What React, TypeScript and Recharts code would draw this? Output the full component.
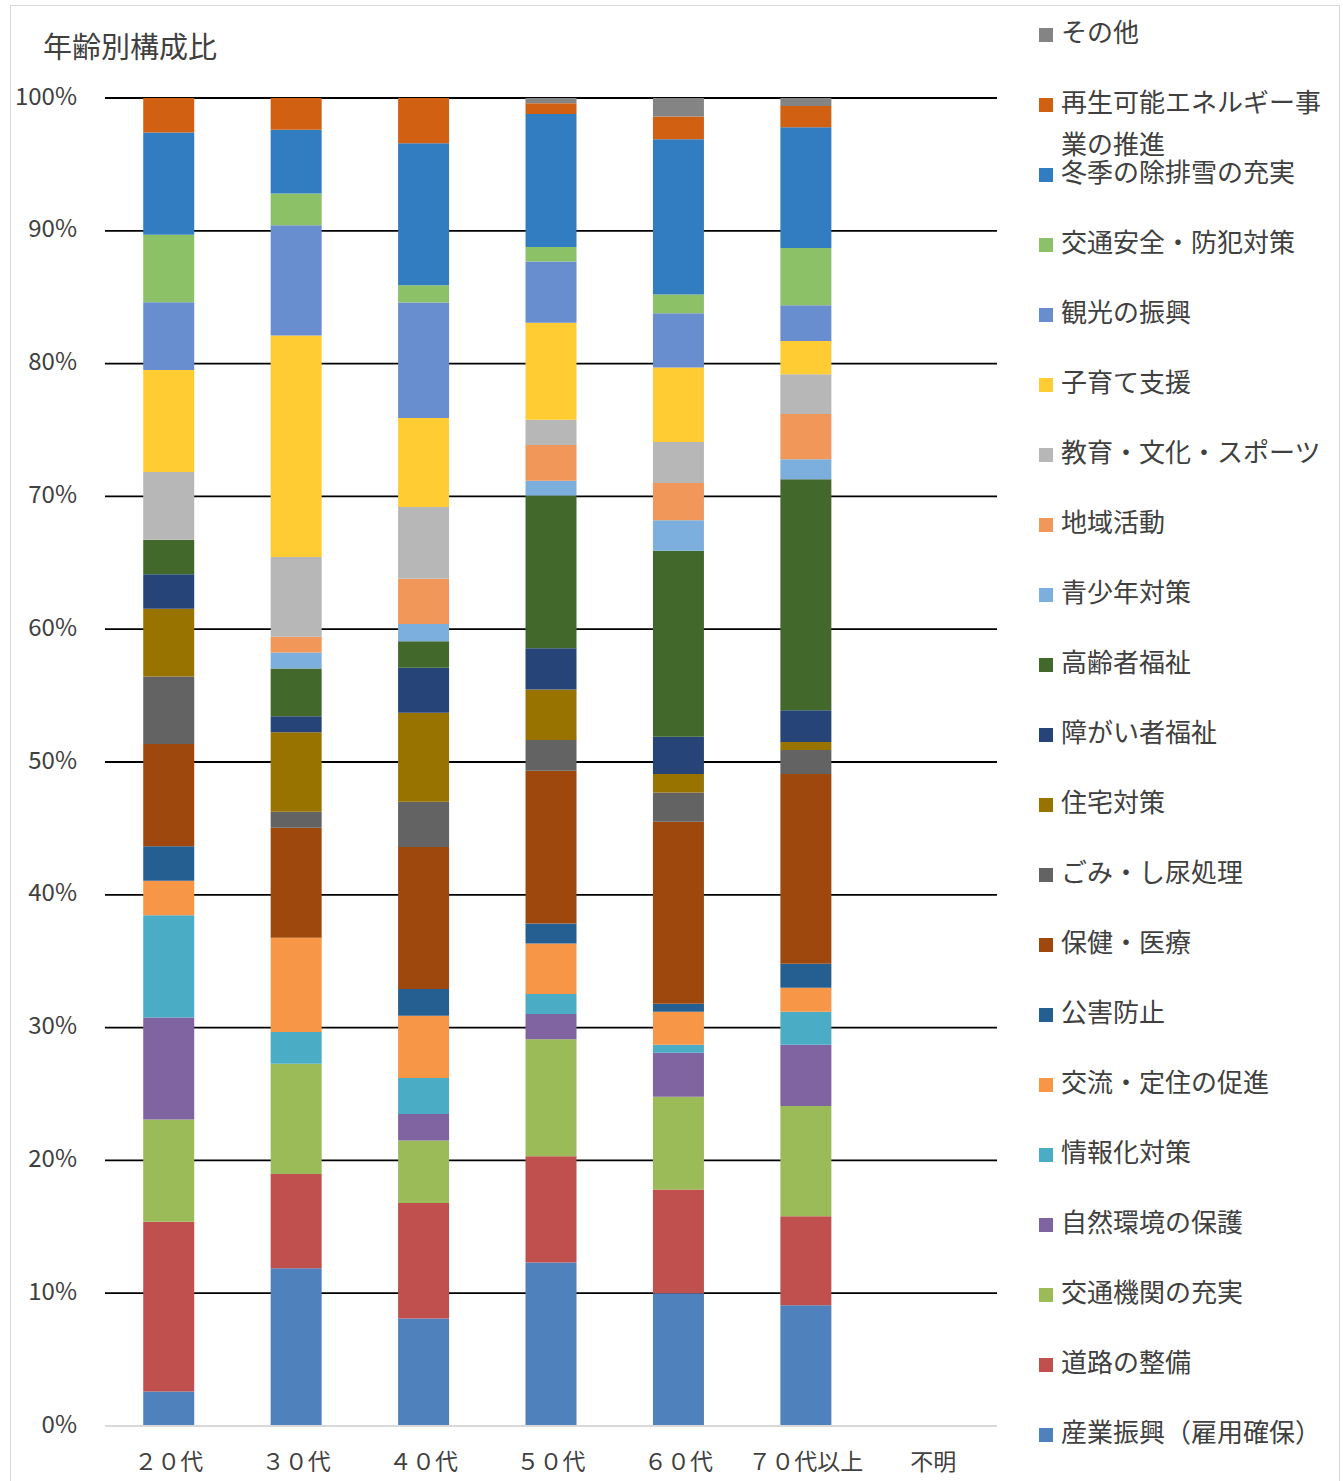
import React from 'react';
import { BarChart, Bar, XAxis, YAxis, CartesianGrid, Legend } from 'recharts';

const categories = ['２０代', '３０代', '４０代', '５０代', '６０代', '７０代以上', '不明'];

// series, bottom of stack to top (values in % of each age group)
const sangyo = [2.6, 11.9, 8.1, 12.3, 10.0, 9.1, 0];
const douro = [12.8, 7.1, 8.7, 8.0, 7.8, 6.7, 0];
const koutsuKikan = [7.7, 8.3, 4.7, 8.8, 7.0, 8.3, 0];
const shizen = [7.7, 0, 2.0, 1.9, 3.3, 4.6, 0];
const jouhou = [7.7, 2.4, 2.7, 1.5, 0.6, 2.5, 0];
const kouryu = [2.6, 7.1, 4.7, 3.8, 2.5, 1.8, 0];
const kougai = [2.6, 0, 2.0, 1.5, 0.6, 1.8, 0];
const hoken = [7.7, 8.3, 10.7, 11.5, 13.7, 14.3, 0];
const gomi = [5.1, 1.2, 3.4, 2.3, 2.2, 1.8, 0];
const juutaku = [5.1, 6.0, 6.7, 3.8, 1.4, 0.6, 0];
const shougai = [2.6, 1.2, 3.4, 3.1, 2.8, 2.4, 0];
const koureisha = [2.6, 3.6, 2.0, 11.5, 14.0, 17.4, 0];
const seishounen = [0, 1.2, 1.3, 1.1, 2.3, 1.5, 0];
const chiiki = [0, 1.2, 3.4, 2.7, 2.8, 3.4, 0];
const kyouiku = [5.1, 6.0, 5.4, 1.9, 3.1, 3.0, 0];
const kosodate = [7.7, 16.7, 6.7, 7.3, 5.6, 2.5, 0];
const kankou = [5.1, 8.3, 8.7, 4.6, 4.1, 2.7, 0];
const koutsuAnzen = [5.1, 2.4, 1.3, 1.1, 1.4, 4.3, 0];
const touki = [7.7, 4.8, 10.7, 10.0, 11.7, 9.1, 0];
const saisei = [2.6, 2.4, 3.4, 0.8, 1.7, 1.6, 0];
const sonota = [0, 0, 0, 0.4, 1.4, 0.6, 0];

const seriesNames = [
  '産業振興（雇用確保）',
  '道路の整備',
  '交通機関の充実',
  '自然環境の保護',
  '情報化対策',
  '交流・定住の促進',
  '公害防止',
  '保健・医療',
  'ごみ・し尿処理',
  '住宅対策',
  '障がい者福祉',
  '高齢者福祉',
  '青少年対策',
  '地域活動',
  '教育・文化・スポーツ',
  '子育て支援',
  '観光の振興',
  '交通安全・防犯対策',
  '冬季の除排雪の充実',
  '再生可能エネルギー事業の推進',
  'その他',
];

const seriesValues = [
  sangyo, douro, koutsuKikan, shizen, jouhou, kouryu, kougai, hoken, gomi, juutaku,
  shougai, koureisha, seishounen, chiiki, kyouiku, kosodate, kankou, koutsuAnzen,
  touki, saisei, sonota,
];

const seriesColors = [
  '#4F81BD', '#C0504D', '#9BBB59', '#8064A2', '#4BACC6', '#F79646', '#255E91',
  '#9E480E', '#636363', '#997300', '#264478', '#43682B', '#7CAFDD', '#F1975A',
  '#B7B7B7', '#FFCD33', '#698ED0', '#8CC168', '#327DC2', '#D26012', '#848484',
];

const yTicks = [0, 0.1, 0.2, 0.3, 0.4, 0.5, 0.6, 0.7, 0.8, 0.9, 1];
const title = '年齢別構成比';

const data = categories.map((c, i) => {
  const row: Record<string, any> = { category: c };
  seriesNames.forEach((_, k) => {
    row['s' + k] = seriesValues[k][i];
  });
  return row;
});

const TEXT = '#404040';
const FONT = "'Noto Sans CJK JP', 'Noto Sans', sans-serif";

const renderLegend = (props: any) => {
  const payload = [...(props.payload || [])];
  payload.sort(
    (a: any, b: any) => seriesNames.indexOf(b.value) - seriesNames.indexOf(a.value)
  );
  return (
    <div style={{ position: 'relative', width: 300, height: 1470 }}>
      {payload.map((it: any, i: number) => (
        <div
          key={it.value}
          style={{
            position: 'absolute',
            left: 0,
            top: 9.5 + 70 * i,
            display: 'flex',
            alignItems: 'flex-start',
          }}
        >
          <span
            style={{
              display: 'block',
              width: 14,
              height: 14,
              background: it.color,
              marginTop: 18.5,
              marginRight: 8,
              flex: 'none',
            }}
          />
          <span
            style={{
              display: 'block',
              width: 275,
              lineHeight: '42px',
              fontSize: 26,
              color: TEXT,
              textAlign: 'left',
              fontFamily: FONT,
            }}
          >
            {it.value}
          </span>
        </div>
      ))}
    </div>
  );
};

export default function App() {
  return (
    <div
      style={{
        position: 'absolute',
        left: 0,
        top: 0,
        width: 1343,
        height: 1481,
        fontFamily: FONT,
        background: '#fff',
      }}
    >
      <div
        style={{
          position: 'absolute',
          left: 10,
          top: 5,
          width: 1330,
          height: 1480,
          border: '1.5px solid #d9d9d9',
          boxSizing: 'border-box',
        }}
      />
      <div
        style={{
          position: 'absolute',
          left: 43,
          top: 25,
          fontSize: 29,
          lineHeight: '40px',
          color: TEXT,
          whiteSpace: 'nowrap',
        }}
      >
        {title}
      </div>
      <div style={{ position: 'absolute', left: 0, top: 0 }}>
        <BarChart
          width={1343}
          height={1481}
          data={data}
          stackOffset="expand"
          barCategoryGap="30%"
          margin={{ top: 98, right: 346, bottom: 5, left: 0 }}
        >
          <CartesianGrid vertical={false} stroke="#000" strokeWidth={1.8} />
          <XAxis
            dataKey="category"
            height={50}
            tickLine={false}
            tickSize={0}
            tickMargin={28}
            axisLine={{ stroke: '#d9d9d9', strokeWidth: 2 }}
            tick={{ fill: TEXT, fontSize: 23 }}
            interval={0}
          />
          <YAxis
            width={105}
            domain={[0, 1]}
            ticks={yTicks}
            tickFormatter={(v: number) => `${Math.round(v * 100)}%`}
            axisLine={false}
            tickLine={false}
            tickSize={0}
            tickMargin={28}
            tick={{ fill: TEXT, fontSize: 24, dy: -2 }}
            interval={0}
          />
          <Legend
            layout="horizontal"
            verticalAlign="middle"
            align="center"
            content={renderLegend}
            wrapperStyle={{ left: 1039, top: 0, width: 300, height: 1470 }}
          />
          {seriesNames.map((name, k) => (
            <Bar
              key={name}
              dataKey={'s' + k}
              name={name}
              stackId="a"
              fill={seriesColors[k]}
              isAnimationActive={false}
            />
          ))}
        </BarChart>
      </div>
    </div>
  );
}
